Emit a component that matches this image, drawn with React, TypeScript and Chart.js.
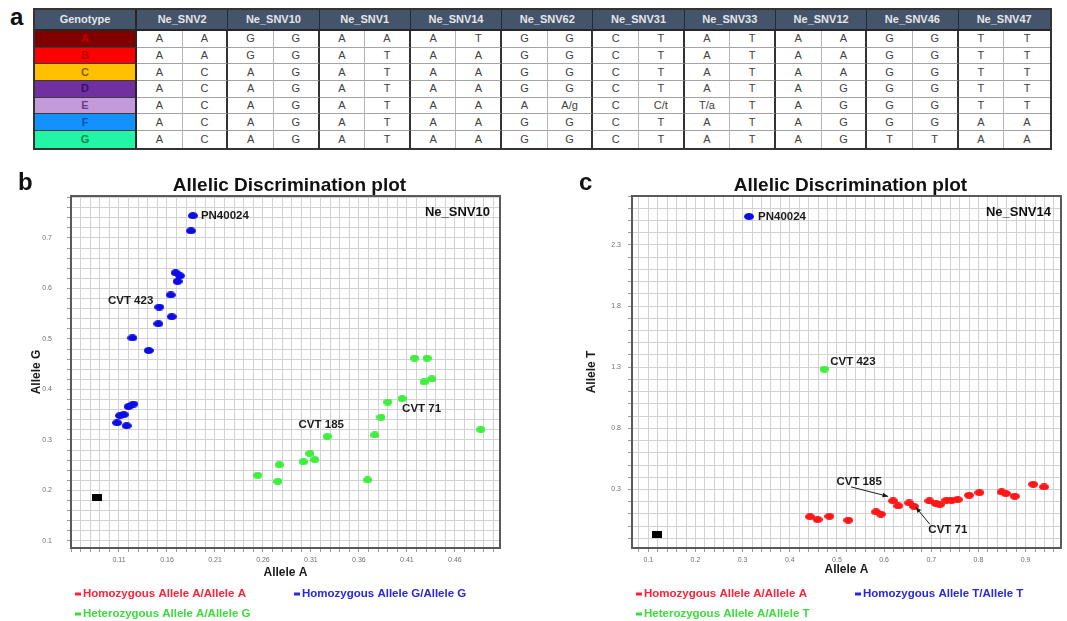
import React, { useEffect, useRef } from 'react';
import { Chart, registerables } from 'chart.js';

Chart.register(...registerables);

const FONT = '"Liberation Sans", Arial, Helvetica, sans-serif';
Chart.defaults.font.family = FONT;

// ---------------- Table (panel a) ----------------
const GENOTYPES = ['A', 'B', 'C', 'D', 'E', 'F', 'G'];
const SNV_NAMES = ['Ne_SNV2', 'Ne_SNV10', 'Ne_SNV1', 'Ne_SNV14', 'Ne_SNV62', 'Ne_SNV31', 'Ne_SNV33', 'Ne_SNV12', 'Ne_SNV46', 'Ne_SNV47'];
const ALLELE_ROWS = [
  ['A', 'A', 'G', 'G', 'A', 'A', 'A', 'T', 'G', 'G', 'C', 'T', 'A', 'T', 'A', 'A', 'G', 'G', 'T', 'T'],
  ['A', 'A', 'G', 'G', 'A', 'T', 'A', 'A', 'G', 'G', 'C', 'T', 'A', 'T', 'A', 'A', 'G', 'G', 'T', 'T'],
  ['A', 'C', 'A', 'G', 'A', 'T', 'A', 'A', 'G', 'G', 'C', 'T', 'A', 'T', 'A', 'A', 'G', 'G', 'T', 'T'],
  ['A', 'C', 'A', 'G', 'A', 'T', 'A', 'A', 'G', 'G', 'C', 'T', 'A', 'T', 'A', 'G', 'G', 'G', 'T', 'T'],
  ['A', 'C', 'A', 'G', 'A', 'T', 'A', 'A', 'A', 'A/g', 'C', 'C/t', 'T/a', 'T', 'A', 'G', 'G', 'G', 'T', 'T'],
  ['A', 'C', 'A', 'G', 'A', 'T', 'A', 'A', 'G', 'G', 'C', 'T', 'A', 'T', 'A', 'G', 'G', 'G', 'A', 'A'],
  ['A', 'C', 'A', 'G', 'A', 'T', 'A', 'A', 'G', 'G', 'C', 'T', 'A', 'T', 'A', 'G', 'T', 'T', 'A', 'A'],
];
const GENOTYPE_FILL = ['#800000', '#ff0000', '#ffc000', '#7030a0', '#c39bdb', '#1291ff', '#22f5a5'];
const GENOTYPE_INK = ['#c00000', '#b80000', '#7f6000', '#3a106a', '#6a3c90', '#0a4fa0', '#008a40'];

// ---------------- Panel b : Ne_SNV10 ----------------
const B_HOMO_A_X: number[] = [];
const B_HOMO_A_Y: number[] = [];
const B_HOMO_G_X = [0.187, 0.185, 0.169, 0.1735, 0.171, 0.164, 0.152, 0.165, 0.151, 0.124, 0.141, 0.125, 0.120, 0.115, 0.111, 0.108, 0.118];
const B_HOMO_G_Y = [0.744, 0.714, 0.631, 0.625, 0.614, 0.587, 0.563, 0.544, 0.530, 0.502, 0.477, 0.371, 0.366, 0.350, 0.348, 0.334, 0.328];
const B_HET_X = [0.2545, 0.2755, 0.277, 0.302, 0.309, 0.314, 0.327, 0.369, 0.3765, 0.383, 0.390, 0.405, 0.487, 0.418, 0.431, 0.428, 0.436];
const B_HET_Y = [0.230, 0.218, 0.251, 0.257, 0.273, 0.261, 0.307, 0.221, 0.310, 0.345, 0.375, 0.382, 0.321, 0.462, 0.462, 0.415, 0.421];
const B_NTC_X = [0.087];
const B_NTC_Y = [0.1865];
const B_X_TICKS = ['0.11', '0.16', '0.21', '0.26', '0.31', '0.36', '0.41', '0.46'];
const B_Y_TICKS = ['0.1', '0.2', '0.3', '0.4', '0.5', '0.6', '0.7'];

// ---------------- Panel c : Ne_SNV14 ----------------
const C_HOMO_A_X = [0.443, 0.459, 0.484, 0.524, 0.583, 0.593, 0.619, 0.630, 0.653, 0.663, 0.696, 0.710, 0.718, 0.732, 0.743, 0.756, 0.780, 0.802, 0.849, 0.858, 0.877, 0.916, 0.939];
const C_HOMO_A_Y = [0.078, 0.054, 0.081, 0.049, 0.117, 0.098, 0.207, 0.166, 0.190, 0.163, 0.207, 0.185, 0.177, 0.212, 0.212, 0.218, 0.253, 0.275, 0.280, 0.267, 0.245, 0.343, 0.321];
const C_HOMO_T_X = [0.3135];
const C_HOMO_T_Y = [2.532];
const C_HET_X = [0.473];
const C_HET_Y = [1.285];
const C_NTC_X = [0.119];
const C_NTC_Y = [-0.068];
const C_X_TICKS = ['0.1', '0.2', '0.3', '0.4', '0.5', '0.6', '0.7', '0.8', '0.9'];
const C_Y_TICKS = ['0.3', '0.8', '1.3', '1.8', '2.3'];

const zip = (xs: number[], ys: number[]) => xs.map((x, i) => ({ x, y: ys[i] }));

const RED = '#ff1616';
const BLUE = '#0c0ce6';
const GREEN = '#3cf03c';
const RED_TXT = '#ff2238';
const BLUE_TXT = '#2828dc';
const GREEN_TXT = '#3cdc3c';

type Ann = { ds: number; idx: number; text: string; dx: number; dy: number; align: CanvasTextAlign; arrow?: number[] };

const PANEL_B = {
  letter: 'b',
  corner: 'Ne_SNV10',
  yTitle: 'Allele G',
  xRange: [0.06, 0.507], xStep: 0.01, xTicks: B_X_TICKS,
  yRange: [0.086, 0.783], yStep: 0.02, yTicks: B_Y_TICKS,
  yAxisWidth: 71, padRight: 30, yTickPad: 15, yTitlePad: 29, xTitlePadBottom: 41,
  series: [
    { label: 'Homozygous Allele A/Allele A', x: B_HOMO_A_X, y: B_HOMO_A_Y },
    { label: 'Homozygous Allele G/Allele G', x: B_HOMO_G_X, y: B_HOMO_G_Y },
    { label: 'Heterozygous Allele A/Allele G', x: B_HET_X, y: B_HET_Y },
    { label: 'NTC', x: B_NTC_X, y: B_NTC_Y },
  ],
  annotations: [
    { ds: 1, idx: 0, text: 'PN40024', dx: 8, dy: 0, align: 'left' },
    { ds: 1, idx: 6, text: 'CVT 423', dx: -6, dy: -6, align: 'right' },
    { ds: 2, idx: 6, text: 'CVT 185', dx: -6, dy: -12, align: 'center' },
    { ds: 2, idx: 11, text: 'CVT 71', dx: 0, dy: 10, align: 'left' },
  ] as Ann[],
};

const PANEL_C = {
  letter: 'c',
  corner: 'Ne_SNV14',
  yTitle: 'Allele T',
  xRange: [0.0654, 0.975], xStep: 0.02, xTicks: C_X_TICKS,
  yRange: [-0.178, 2.70], yStep: 0.1, yTicks: C_Y_TICKS,
  yAxisWidth: 72, padRight: 6, yTickPad: 7, yTitlePad: 24, xTitlePadBottom: 44,
  series: [
    { label: 'Homozygous Allele A/Allele A', x: C_HOMO_A_X, y: C_HOMO_A_Y },
    { label: 'Homozygous Allele T/Allele T', x: C_HOMO_T_X, y: C_HOMO_T_Y },
    { label: 'Heterozygous Allele A/Allele T', x: C_HET_X, y: C_HET_Y },
    { label: 'NTC', x: C_NTC_X, y: C_NTC_Y },
  ],
  annotations: [
    { ds: 1, idx: 0, text: 'PN40024', dx: 9, dy: 0, align: 'left' },
    { ds: 2, idx: 0, text: 'CVT 423', dx: 6, dy: -7, align: 'left' },
    { ds: 0, idx: 6, text: 'CVT 185', dx: -34, dy: -19, align: 'center', arrow: [-42, -14, -5, -4.5] },
    { ds: 0, idx: 9, text: 'CVT 71', dx: 34, dy: 24, align: 'center', arrow: [16, 18, 2, 1] },
  ] as Ann[],
};

type Panel = typeof PANEL_B;

function ellipse(color: string, w: number, h: number) {
  const c = document.createElement('canvas');
  c.width = w; c.height = h;
  const g = c.getContext('2d')!;
  g.fillStyle = color;
  g.beginPath();
  g.ellipse(w / 2, h / 2, w / 2, h / 2, 0, 0, Math.PI * 2);
  g.fill();
  return c;
}
function rect(color: string, w: number, h: number) {
  const c = document.createElement('canvas');
  c.width = w; c.height = h;
  const g = c.getContext('2d')!;
  g.fillStyle = color;
  g.fillRect(0, 0, w, h);
  return c;
}

const gridTicks = (step: number) => (scale: any) => {
  const k0 = Math.ceil(scale.min / step - 1e-6);
  const k1 = Math.floor(scale.max / step + 1e-6);
  const t: { value: number }[] = [];
  for (let k = k0; k <= k1; k++) t.push({ value: Math.round(k * step * 1e6) / 1e6 });
  scale.ticks = t;
};
const labelFor = (labels: string[]) => {
  const nums = labels.map(Number);
  return (v: any) => {
    const i = nums.findIndex((n) => Math.abs(n - Number(v)) < 1e-6);
    return i >= 0 ? labels[i] : '';
  };
};

function drawArrow(ctx: CanvasRenderingContext2D, x1: number, y1: number, x2: number, y2: number) {
  ctx.beginPath();
  ctx.moveTo(x1, y1);
  ctx.lineTo(x2, y2);
  ctx.stroke();
  const ang = Math.atan2(y2 - y1, x2 - x1);
  const L = 6;
  ctx.beginPath();
  ctx.moveTo(x2, y2);
  ctx.lineTo(x2 - L * Math.cos(ang - 0.4), y2 - L * Math.sin(ang - 0.4));
  ctx.lineTo(x2 - L * Math.cos(ang + 0.4), y2 - L * Math.sin(ang + 0.4));
  ctx.closePath();
  ctx.fill();
}

const LEGEND_COLORS = [RED_TXT, BLUE_TXT, GREEN_TXT];

function makeDecor(panel: Panel) {
  return {
    id: 'decor_' + panel.letter,
    beforeDatasetsDraw(chart: any) {
      const { ctx, chartArea: a } = chart;
      ctx.save();
      ctx.strokeStyle = '#5a5a5a';
      ctx.lineWidth = 2;
      ctx.strokeRect(a.left, a.top, a.right - a.left, a.bottom - a.top);
      ctx.restore();
    },
    afterDraw(chart: any) {
      const { ctx, chartArea: a } = chart;
      ctx.save();
      // panel letter
      ctx.fillStyle = '#111';
      ctx.textBaseline = 'alphabetic';
      ctx.textAlign = 'left';
      ctx.font = `bold 24px ${FONT}`;
      ctx.fillText(panel.letter, a.left - 53, 40);
      // title
      ctx.textAlign = 'center';
      ctx.font = `bold 19px ${FONT}`;
      ctx.fillText('Allelic Discrimination plot', (a.left + a.right) / 2 + 4, 41);
      // corner marker name
      ctx.textAlign = 'right';
      ctx.font = `bold 13px ${FONT}`;
      ctx.fillText(panel.corner, a.right - 10, a.top + 20);
      // annotations
      ctx.font = `bold 11.5px ${FONT}`;
      ctx.textBaseline = 'middle';
      ctx.fillStyle = '#1a1a1a';
      ctx.strokeStyle = '#1a1a1a';
      ctx.lineWidth = 1;
      panel.annotations.forEach((an) => {
        const el = chart.getDatasetMeta(an.ds).data[an.idx];
        if (!el) return;
        ctx.textAlign = an.align;
        ctx.fillText(an.text, el.x + an.dx, el.y + an.dy);
        if (an.arrow) {
          const [fx, fy, tx, ty] = an.arrow;
          drawArrow(ctx, el.x + fx, el.y + fy, el.x + tx, el.y + ty);
        }
      });
      // legend
      const slots = [
        [a.left + 4, a.bottom + 46],
        [a.left + 223, a.bottom + 46],
        [a.left + 4, a.bottom + 66],
      ];
      ctx.font = `bold 11.5px ${FONT}`;
      ctx.textAlign = 'left';
      ctx.textBaseline = 'middle';
      for (let i = 0; i < 3; i++) {
        const [lx, ly] = slots[i];
        ctx.fillStyle = LEGEND_COLORS[i];
        ctx.fillRect(lx, ly - 1.5, 6, 3);
        ctx.fillText(chart.data.datasets[i].label, lx + 8, ly);
      }
      ctx.restore();
    },
  };
}

function buildConfig(panel: Panel): any {
  const styles = [
    ellipse(RED, 10, 7),
    ellipse(BLUE, 10, 7),
    ellipse(GREEN, 9, 7),
    rect('#000', 10, 7),
  ];
  const tickFont = { size: 7 };
  return {
    type: 'scatter',
    data: {
      datasets: panel.series.map((s, i) => ({
        label: s.label,
        data: zip(s.x, s.y),
        pointStyle: styles[i],
        pointRadius: 5,
        pointHoverRadius: 5,
        showLine: false,
      })),
    },
    options: {
      animation: false,
      responsive: false,
      maintainAspectRatio: false,
      events: [],
      layout: { padding: { left: 0, top: 46, right: panel.padRight, bottom: 0 } },
      plugins: { legend: { display: false }, tooltip: { enabled: false }, title: { display: false } },
      scales: {
        x: {
          type: 'linear',
          min: panel.xRange[0],
          max: panel.xRange[1],
          afterBuildTicks: gridTicks(panel.xStep),
          afterFit: (s: any) => { s.height = 73; },
          border: { display: false },
          grid: { color: '#d2d2d2', lineWidth: 1, drawTicks: true, tickLength: 4, tickColor: '#9a9a9a' },
          ticks: { autoSkip: false, maxRotation: 0, minRotation: 0, padding: 4, font: tickFont, color: '#707070', callback: labelFor(panel.xTicks) },
          title: { display: true, text: 'Allele A', color: '#1a1a1a', font: { size: 12, weight: 'bold' }, padding: { top: 0, bottom: panel.xTitlePadBottom } },
        },
        y: {
          type: 'linear',
          min: panel.yRange[0],
          max: panel.yRange[1],
          afterBuildTicks: gridTicks(panel.yStep),
          afterFit: (s: any) => { s.width = panel.yAxisWidth; },
          border: { display: false },
          grid: { color: '#d2d2d2', lineWidth: 1, drawTicks: true, tickLength: 4, tickColor: '#9a9a9a' },
          ticks: { autoSkip: false, padding: panel.yTickPad, font: tickFont, color: '#707070', callback: labelFor(panel.yTicks) },
          title: { display: true, text: panel.yTitle, color: '#1a1a1a', font: { size: 12, weight: 'bold' }, padding: { top: panel.yTitlePad, bottom: 0 } },
        },
      },
    },
    plugins: [makeDecor(panel)],
  };
}

function ScatterPanel({ panel, left, top, width, height }: { panel: Panel; left: number; top: number; width: number; height: number }) {
  const ref = useRef<HTMLCanvasElement>(null);
  useEffect(() => {
    const chart = new Chart(ref.current!, buildConfig(panel));
    return () => chart.destroy();
  }, [panel]);
  return <canvas ref={ref} width={width} height={height} style={{ position: 'absolute', left, top, width, height }} />;
}

const COL_W = 45.65;
const GENO_W = 102;

function GenotypeTable() {
  const cells: React.ReactNode[] = [];
  const headBase: React.CSSProperties = {
    background: '#44546a', color: '#e4e6ea', fontWeight: 'bold', fontSize: 11,
    display: 'flex', alignItems: 'center', justifyContent: 'center', boxSizing: 'border-box',
    borderBottom: '2px solid #262626',
  };
  cells.push(<div key="h" style={{ ...headBase, borderRight: '2px solid #262626' }}>Genotype</div>);
  SNV_NAMES.forEach((n, i) => {
    cells.push(
      <div key={'h' + i} style={{ ...headBase, gridColumn: 'span 2', borderRight: i < SNV_NAMES.length - 1 ? '1.5px solid #222c38' : 'none' }}>{n}</div>
    );
  });
  GENOTYPES.forEach((g, r) => {
    const last = r === GENOTYPES.length - 1;
    cells.push(
      <div key={'g' + r} style={{
        background: GENOTYPE_FILL[r], color: GENOTYPE_INK[r], fontWeight: 'bold', fontSize: 11,
        display: 'flex', alignItems: 'center', justifyContent: 'center', boxSizing: 'border-box',
        borderRight: '2px solid #262626', borderBottom: last ? 'none' : '1px solid #3a3a3a',
      }}>{g}</div>
    );
    ALLELE_ROWS[r].forEach((v, c) => {
      const groupEnd = c % 2 === 1;
      const lastCol = c === ALLELE_ROWS[r].length - 1;
      cells.push(
        <div key={'c' + r + '_' + c} style={{
          background: '#fff', color: '#404040', fontSize: 11,
          display: 'flex', alignItems: 'center', justifyContent: 'center', boxSizing: 'border-box',
          borderRight: lastCol ? 'none' : groupEnd ? '2px solid #333' : '1px solid #b4b4b4',
          borderBottom: last ? 'none' : '1px solid #a4a4a4',
        }}>{v}</div>
      );
    });
  });
  return (
    <div style={{
      position: 'absolute', left: 33, top: 8, border: '2px solid #333', display: 'grid',
      gridTemplateColumns: `${GENO_W}px repeat(20, ${COL_W}px)`,
      gridTemplateRows: '21px repeat(7, 16.7px)',
      fontFamily: FONT, lineHeight: 1,
    }}>
      {cells}
    </div>
  );
}

export default function App() {
  return (
    <div style={{ position: 'absolute', left: 0, top: 0, width: 1067, height: 621, overflow: 'hidden', background: '#fff', fontFamily: FONT }}>
      <div style={{ position: 'absolute', left: 10, top: 5, fontSize: 24, lineHeight: '24px', fontWeight: 'bold', color: '#111' }}>a</div>
      <GenotypeTable />
      <ScatterPanel panel={PANEL_B} left={0} top={150} width={530} height={471} />
      <ScatterPanel panel={PANEL_C} left={560} top={150} width={507} height={471} />
    </div>
  );
}
